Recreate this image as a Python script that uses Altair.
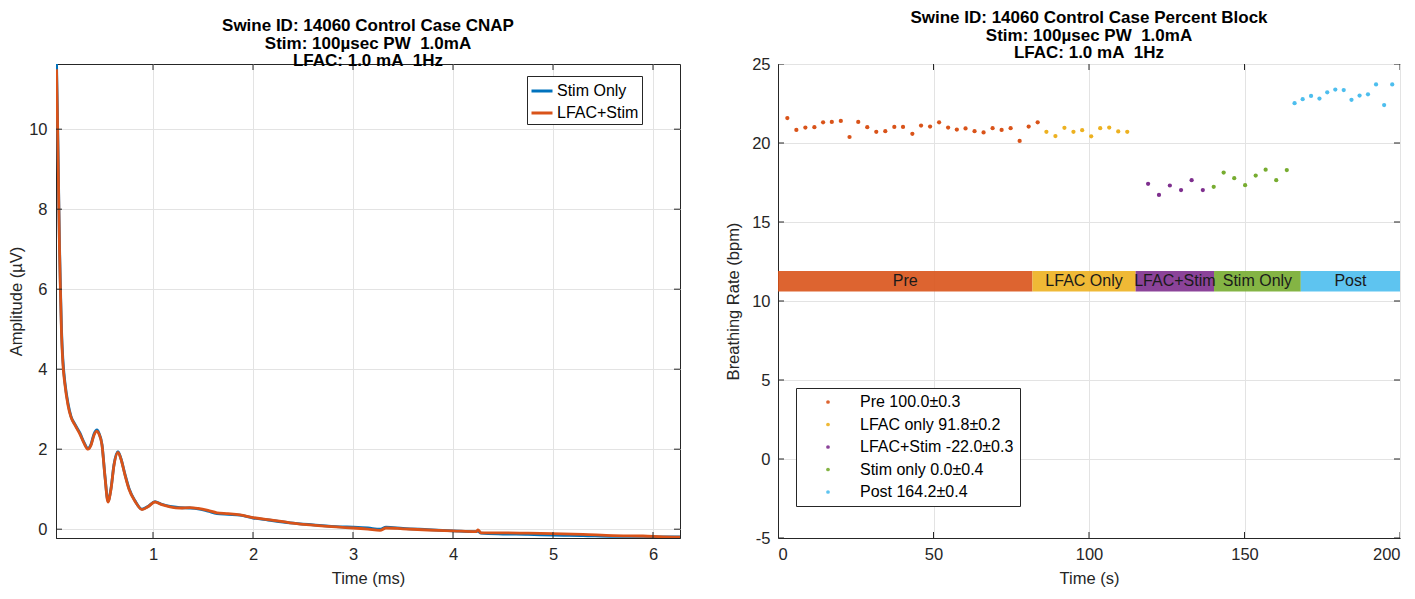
import altair as alt
import pandas as pd

FONT = "Liberation Sans"
INK = "#262626"
GRID = "#e3e3e3"

# ---------------- Left panel: CNAP traces ----------------
cnap_time = [0.035, 0.045, 0.055, 0.065, 0.075, 0.085, 0.10, 0.12, 0.15, 0.18,
             0.22, 0.27, 0.31, 0.35, 0.38, 0.41, 0.44, 0.46, 0.49, 0.52,
             0.55, 0.58, 0.61, 0.65, 0.68, 0.72, 0.76, 0.82, 0.89, 0.95,
             1.02, 1.08, 1.17, 1.27, 1.37, 1.45, 1.55, 1.64, 1.75, 1.87,
             2.0, 2.15, 2.37, 2.6, 2.87, 3.0, 3.15, 3.27, 3.33, 3.5,
             3.75, 4.0, 4.23, 4.25, 4.28, 4.5, 4.75, 5.0, 5.3, 5.6,
             5.9, 6.1, 6.27]
cnap_lfac_stim = [11.5, 10.2, 8.6, 7.0, 5.9, 4.9, 4.1, 3.6, 3.1, 2.8,
                  2.6, 2.37, 2.15, 2.0, 2.1, 2.35, 2.45, 2.38, 2.1, 1.3,
                  0.68, 1.0, 1.6, 1.92, 1.75, 1.35, 1.0, 0.7, 0.49, 0.56,
                  0.68, 0.62, 0.56, 0.53, 0.54, 0.52, 0.47, 0.41, 0.39, 0.36,
                  0.29, 0.24, 0.16, 0.10, 0.05, 0.03, 0.0, -0.03, 0.03, 0.01,
                  -0.02, -0.04, -0.06, -0.02, -0.09, -0.09, -0.10, -0.11, -0.13, -0.16,
                  -0.17, -0.19, -0.20]
cnap_stim_only = [11.7, 10.3, 8.7, 7.1, 6.0, 5.0, 4.2, 3.65, 3.15, 2.82,
                  2.62, 2.4, 2.17, 2.02, 2.12, 2.38, 2.48, 2.4, 2.12, 1.32,
                  0.7, 1.02, 1.62, 1.94, 1.76, 1.37, 1.02, 0.71, 0.5, 0.57,
                  0.69, 0.63, 0.57, 0.54, 0.53, 0.51, 0.45, 0.39, 0.37, 0.35,
                  0.28, 0.23, 0.16, 0.11, 0.06, 0.05, 0.03, 0.0, 0.05, 0.02,
                  -0.01, -0.04, -0.06, -0.05, -0.10, -0.12, -0.13, -0.15, -0.16, -0.18,
                  -0.18, -0.19, -0.19]
cnap_series = ["Stim Only", "LFAC+Stim"]
cnap_colors = ["#0072BD", "#D95319"]
cnap_xticks = [1, 2, 3, 4, 5, 6]
cnap_yticks = [0, 2, 4, 6, 8, 10]

# ---------------- Right panel: breathing rate ----------------
pre_t = [3.0, 5.9, 8.8, 11.7, 14.5, 17.3, 20.2, 23.0, 25.8, 28.7, 31.6, 34.5, 37.4, 40.2,
         43.2, 46.0, 48.9, 51.8, 54.7, 57.5, 60.3, 63.2, 66.1, 69.0, 71.9, 74.8, 77.7, 80.6, 83.5]
pre_r = [21.58, 20.83, 20.98, 21.0, 21.31, 21.33, 21.4, 20.38, 21.33, 21.0, 20.71, 20.75, 21.02, 21.02,
         20.58, 21.1, 21.04, 21.31, 20.98, 20.85, 20.92, 20.75, 20.67, 20.94, 20.83, 20.94, 20.13, 21.04, 21.31]
lfac_t = [86.3, 89.2, 92.1, 95.0, 97.8, 100.7, 103.6, 106.5, 109.4, 112.3]
lfac_r = [20.71, 20.44, 20.96, 20.71, 20.81, 20.42, 20.94, 20.98, 20.73, 20.71]
both_t = [119.0, 122.5, 126.0, 129.6, 133.0, 136.6]
both_r = [17.42, 16.71, 17.31, 17.02, 17.65, 17.02]
stim_t = [140.1, 143.3, 146.7, 150.2, 153.6, 156.8, 160.2, 163.6]
stim_r = [17.23, 18.13, 17.77, 17.33, 17.94, 18.31, 17.65, 18.29]
post_t = [166.1, 168.7, 171.4, 174.1, 176.6, 179.2, 181.9, 184.4, 187.0, 189.7, 192.3, 194.9, 197.5]
post_r = [22.52, 22.77, 22.98, 22.81, 23.21, 23.38, 23.35, 22.73, 23.0, 23.08, 23.71, 22.4, 23.71]

legend_labels = ["Pre 100.0±0.3", "LFAC only 91.8±0.2", "LFAC+Stim -22.0±0.3",
                 "Stim only 0.0±0.4", "Post 164.2±0.4"]
phase_colors = ["#D95319", "#EDB120", "#7E2F8E", "#77AC30", "#4DBEEE"]
phase_names = ["Pre", "LFAC Only", "LFAC+Stim", "Stim Only", "Post"]
phase_start = [0.0, 81.8, 115.0, 140.2, 168.1]
phase_end = [81.8, 115.0, 140.2, 168.1, 200.0]
bar_low = [10.6] * 5
bar_high = [11.9] * 5
rate_xticks = [0, 50, 100, 150, 200]
rate_yticks = [-5, 0, 5, 10, 15, 20, 25]

W1, W2, H = 624, 622, 474
TL = 6  # inward tick length
LBL = 16.5   # tick label size
TTL = 16.5   # axis title size
LEG = 16     # legend label size

# ---------- build left ----------
xs1 = alt.Scale(domain=[0.03, 6.27], nice=False, zero=False)
ys1 = alt.Scale(domain=[-0.22, 11.63], nice=False, zero=False)
cs1 = alt.Scale(domain=cnap_series, range=cnap_colors)

xa1 = alt.Axis(values=cnap_xticks, title="Time (ms)", ticks=False, labelPadding=8, titlePadding=8,
               labelExpr="datum.value + ''")
ya1 = alt.Axis(values=cnap_yticks, title="Amplitude (µV)", ticks=False, labelPadding=9, titlePadding=4,
               labelExpr="datum.value + ''")
leg1 = alt.Legend(title=None, orient="none", legendX=471, legendY=12, symbolType="stroke",
                  symbolSize=441, symbolStrokeWidth=3, labelFontSize=LEG, labelFont=FONT,
                  labelColor="black", strokeColor=INK, fillColor="white", padding=3,
                  rowPadding=2, labelOffset=3)

df_stim = pd.DataFrame({"t": cnap_time, "amp": cnap_stim_only, "series": cnap_series[0]})
df_lfac = pd.DataFrame({"t": cnap_time, "amp": cnap_lfac_stim, "series": cnap_series[1]})

line_stim = alt.Chart(df_stim).mark_line(strokeWidth=2.8, clip=True, interpolate="monotone").encode(
    x=alt.X("t:Q", scale=xs1, axis=xa1),
    y=alt.Y("amp:Q", scale=ys1, axis=ya1),
    color=alt.Color("series:N", scale=cs1, legend=leg1),
)
line_lfac = alt.Chart(df_lfac).mark_line(strokeWidth=2.8, clip=True, interpolate="monotone").encode(
    x=alt.X("t:Q", scale=xs1, axis=xa1),
    y=alt.Y("amp:Q", scale=ys1, axis=ya1),
    color=alt.Color("series:N", scale=cs1, legend=leg1),
)

def tick_layers(xvals, yvals, xs, ys, xa, ya, w, h):
    dx = pd.DataFrame({"v": xvals})
    dy = pd.DataFrame({"v": yvals})
    base_x = alt.Chart(dx).mark_rule(color=INK, strokeWidth=1, clip=True)
    base_y = alt.Chart(dy).mark_rule(color=INK, strokeWidth=1, clip=True)
    return [
        base_x.encode(x=alt.X("v:Q", scale=xs, axis=xa), y=alt.value(h), y2=alt.value(h - TL)),
        base_x.encode(x=alt.X("v:Q", scale=xs, axis=xa), y=alt.value(0), y2=alt.value(TL)),
        base_y.encode(y=alt.Y("v:Q", scale=ys, axis=ya), x=alt.value(0), x2=alt.value(TL)),
        base_y.encode(y=alt.Y("v:Q", scale=ys, axis=ya), x=alt.value(w), x2=alt.value(w - TL)),
    ]

left = alt.layer(line_stim, line_lfac,
                 *tick_layers(cnap_xticks, cnap_yticks, xs1, ys1, xa1, ya1, W1, H)).properties(
    width=W1, height=H,
    title=alt.TitleParams(text=["Swine ID: 14060 Control Case CNAP",
                                "Stim: 100µsec PW\u00a0 1.0mA",
                                "LFAC: 1.0 mA\u00a0 1Hz"]),
)

# ---------- build right ----------
xs2 = alt.Scale(domain=[0, 200], nice=False, zero=False)
ys2 = alt.Scale(domain=[-5, 25], nice=False, zero=False)
xa2 = alt.Axis(values=rate_xticks, title="Time (s)", ticks=False, labelPadding=8, titlePadding=8,
               labelExpr="datum.value + ''")
ya2 = alt.Axis(values=rate_yticks, title="Breathing Rate (bpm)", ticks=False, labelPadding=8, titlePadding=10,
               labelExpr="datum.value + ''")
leg2 = alt.Legend(title=None, orient="none", legendX=18, legendY=324, symbolType="circle",
                  symbolSize=14, labelFontSize=LEG, labelFont=FONT, labelColor="black",
                  strokeColor=INK, fillColor="white", padding=6, rowPadding=6.5,
                  symbolOffset=18, labelOffset=24)

rows = []
for lab, ts, rs in zip(legend_labels, [pre_t, lfac_t, both_t, stim_t, post_t],
                       [pre_r, lfac_r, both_r, stim_r, post_r]):
    for t, r in zip(ts, rs):
        rows.append({"t": t, "rate": r, "phase": lab})
df_pts = pd.DataFrame(rows)

df_bars = pd.DataFrame({"name": phase_names, "start": phase_start, "end": phase_end,
                        "lo": bar_low, "hi": bar_high, "col": phase_colors})

bars = alt.Chart(df_bars).mark_rect(opacity=0.9).encode(
    x=alt.X("start:Q", scale=xs2, axis=xa2),
    x2="end:Q",
    y=alt.Y("lo:Q", scale=ys2, axis=ya2),
    y2="hi:Q",
    color=alt.Color("col:N", scale=None),
)
bar_text = alt.Chart(df_bars).transform_calculate(
    mid="(datum.start + datum.end) / 2", ymid="(datum.lo + datum.hi) / 2"
).mark_text(font=FONT, fontSize=16, color="#1a1a1a", baseline="middle", align="center").encode(
    x=alt.X("mid:Q", scale=xs2, axis=xa2),
    y=alt.Y("ymid:Q", scale=ys2, axis=ya2),
    text="name:N",
)
pts = alt.Chart(df_pts).mark_circle(size=18, opacity=1).encode(
    x=alt.X("t:Q", scale=xs2, axis=xa2),
    y=alt.Y("rate:Q", scale=ys2, axis=ya2),
    color=alt.Color("phase:N", scale=alt.Scale(domain=legend_labels, range=phase_colors), legend=leg2),
)

right = alt.layer(bars, bar_text, pts,
                  *tick_layers(rate_xticks, rate_yticks, xs2, ys2, xa2, ya2, W2, H)).properties(
    width=W2, height=H,
    title=alt.TitleParams(text=["Swine ID: 14060 Control Case Percent Block",
                                "Stim: 100µsec PW\u00a0 1.0mA",
                                "LFAC: 1.0 mA\u00a0 1Hz"]),
)

chart = alt.hconcat(left, right, spacing=44).resolve_scale(
    color="independent"
).resolve_legend(
    color="independent"
).properties(
    padding={"left": 0, "top": 0, "right": 0, "bottom": 0}
).configure_view(
    stroke=INK, strokeWidth=1
).configure_axis(
    grid=True, gridColor=GRID, gridWidth=1, domainColor=INK, domainWidth=1,
    labelFont=FONT, labelFontSize=LBL, labelColor=INK,
    titleFont=FONT, titleFontSize=TTL, titleFontWeight="normal", titleColor=INK,
).configure_title(
    font=FONT, fontSize=17, fontWeight="bold", color="black", anchor="middle",
    lineHeight=17.5, offset=-6,
)

chart.save("out.html", embed_options={"renderer": "svg", "actions": False})
